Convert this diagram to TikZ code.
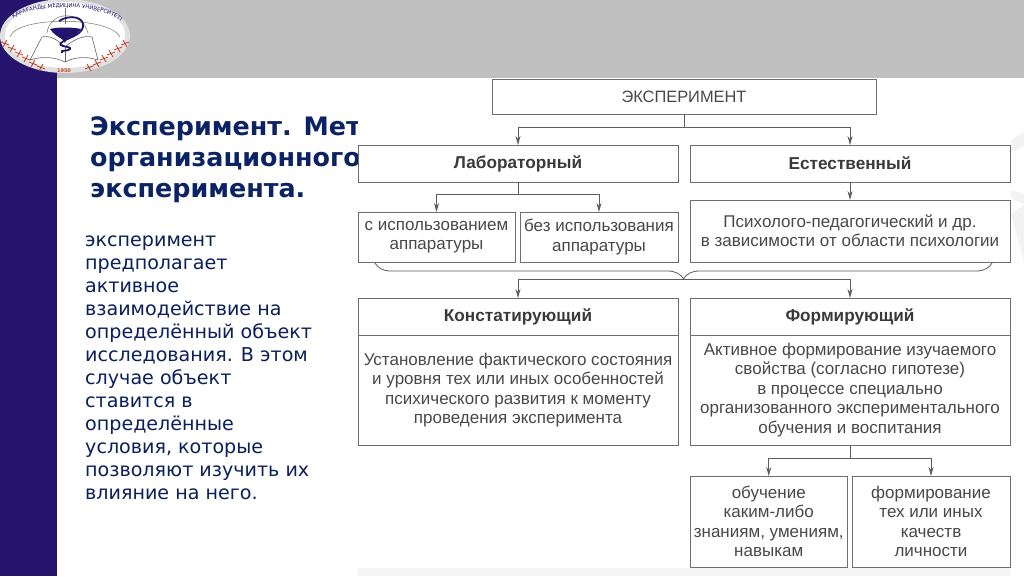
\documentclass[tikz,border=0pt]{standalone}
\usepackage{fontspec}
\setmainfont{Liberation Sans}
\newfontfamily\slidefont{DejaVu Sans}
\usepackage{xcolor}
\usetikzlibrary{arrows.meta,positioning,decorations.pathreplacing,decorations.text}
\definecolor{barpurple}{HTML}{24146E}
\definecolor{bargray}{HTML}{C0C0C0}
\definecolor{titleblue}{HTML}{0B2265}
\definecolor{inkgray}{HTML}{484848}
\definecolor{linegray}{HTML}{6E6E6E}
\definecolor{ornred}{HTML}{C8482F}

\begin{document}
\begin{tikzpicture}[
  x=1pt, y=-1pt,
  box/.style={rectangle, draw=linegray, line width=.9pt, fill=white, inner sep=0pt, outer sep=0pt,
              text=inkgray, align=center, font=\fontsize{17}{19.5}\selectfont},
  headbox/.style={box, minimum width=320pt, minimum height=37pt, text=inkgray!80!black,
              font=\fontsize{17.2}{19.5}\selectfont\bfseries},
  bodybox/.style={box, minimum width=320pt, minimum height=110pt},
  subbox/.style={box, minimum width=157pt, minimum height=50pt},
  wire/.style={draw=linegray!85!black, line width=.9pt},
  arr/.style={wire, -{Stealth[length=9pt,width=5pt]}},
  slidetext/.style={inner sep=0pt, anchor=north west, align=left, font=\slidefont\fontsize{19.1}{23}\selectfont, text=titleblue!90!black},
  titletext/.style={inner sep=0pt, anchor=north west, align=left, font=\slidefont\bfseries\fontsize{25.4}{31}\selectfont, text=titleblue},
  node distance=18pt and 12pt]

\useasboundingbox (0,0) rectangle (1024,576);

% slide
\fill[white] (0,0) rectangle (1024,576);
\fill[bargray] (57,0) rectangle (1024,78);
\fill[barpurple] (0,0) rectangle (57,576);

\node[titletext] (slidetitle) at (90,116) {Эксперимент. Метод\\организационного\\эксперимента.};
\node[slidetext] (slidebody) at (85,236) {эксперимент\\предполагает\\активное\\взаимодействие на\\определённый объект\\исследования. В этом\\случае объект\\ставится в\\определённые\\условия, которые\\позволяют изучить их\\влияние на него.};

% picture area hides the end of the title
\fill[white] (358,79) rectangle (1024,576);
\fill[black!5] (1011,140) -- (1024,132) -- (1024,146) -- (1011,152) -- cycle;
\fill[black!5] (1011,190) -- (1024,194) -- (1024,204) -- (1011,198) -- cycle;
\fill[black!5] (1011,214) -- (1024,205) -- (1024,262) -- cycle;
\fill[black!4] (358,568) rectangle (1010,576);

% logo
\fill[black!12] (65,36) ellipse [x radius=65, y radius=37];
\fill[white] (65,35) ellipse [x radius=60, y radius=33];
\path[decorate, decoration={text along path, text align=center,
  text color=barpurple, text={|\slidefont\fontsize{5.4}{6}\selectfont|ҚАРАҒАНДЫ МЕДИЦИНА УНИВЕРСИТЕТІ}}]
  (9,23) .. controls (26,2) and (104,2) .. (125,25);
\draw[black!55, line width=.5pt] (10,37) .. controls (16,16) and (110,16) .. (120,37);
\draw[black!55, line width=.5pt] (47,33) .. controls (50,10) and (82,10) .. (88,33);
\draw[black!55, line width=.5pt] (65,8) -- (65,24);
% book
\draw[black!60, line width=.6pt, fill=white] (30,60) -- (42,37) .. controls (50,35) and (58,40) .. (65,47)
  .. controls (73,40) and (83,35) .. (92,37) -- (98,60) .. controls (85,56) and (75,57) .. (65,62) .. controls (55,57) and (42,56) .. (30,60) -- cycle;
\draw[black!60, line width=.4pt] (65,47) -- (65,62);
% bowl and snake
\fill[barpurple] (50,29) .. controls (57,27) and (72,27) .. (81,29) .. controls (76,36) and (70,38) .. (66,40) -- (65,43) -- (63,40) .. controls (59,37) and (54,35) .. (50,29) -- cycle;
\draw[barpurple, line width=1.8pt] (59,21) .. controls (70,14) and (85,17) .. (83,27) .. controls (81,36) and (66,38) .. (61,43) .. controls (57,47) and (72,46) .. (70,49) .. controls (68,52) and (60,49) .. (62,53);
% ornament
\foreach \i/\j in {5/43, 12/48, 19/53, 26/58, 33/63, 41/67}{
  \draw[ornred, line width=.9pt] (\i-4,\j-1) -- (\i+4,\j+2) (\i+2,\j-3) -- (\i-2,\j+4);
  \draw[ornred, line width=.9pt] (130-\i-4,\j+2) -- (130-\i+4,\j-1) (130-\i-2,\j-3) -- (130-\i+2,\j+4);
}
\node[inner sep=0pt, text=ornred, font=\slidefont\bfseries\fontsize{5}{6}\selectfont] (logoyear) at (64,71) {1950};

% diagram
\node[box, minimum width=384pt, minimum height=35pt, font=\fontsize{16.4}{19.5}\selectfont] (root) at (684,96.5) {ЭКСПЕРИМЕНТ};
\node[headbox] (lab) at (518,163.5) {Лабораторный};
\node[headbox, right=of lab] (natural) {Естественный};
\node[subbox, below=30pt of lab.south west, anchor=north west] (withapp) {с использованием\\аппаратуры};
\node[subbox, minimum width=158pt, below=30pt of lab.south east, anchor=north east] (noapp) {без использования\\аппаратуры};
\node[box, minimum width=320pt, minimum height=62pt, below=of natural] (psych) {Психолого-педагогический и др.\\в зависимости от области психологии};
\node[headbox, below=116pt of lab] (stating) {Констатирующий};
\node[headbox, below=116pt of natural] (forming) {Формирующий};
\node[bodybox, below=0pt of stating] (statingbody) {Установление фактического состояния\\и уровня тех или иных особенностей\\психического развития к моменту\\проведения эксперимента};
\node[bodybox, below=0pt of forming] (formingbody) {Активное формирование изучаемого\\свойства (согласно гипотезе)\\в процессе специально\\организованного экспериментального\\обучения и воспитания};
\node[subbox, minimum height=91pt, minimum width=157.5pt, below=31pt of formingbody.south west, anchor=north west] (teach) {обучение\\каким-либо\\знаниям, умениям,\\навыкам};
\node[subbox, minimum height=91pt, minimum width=158pt, below=31pt of formingbody.south east, anchor=north east] (traits) {формирование\\тех или иных\\качеств\\личности};

\coordinate (rootfork) at (684,127);
\coordinate (labfork) at (518,194);
\coordinate (bracetip) at (684,279);
\coordinate (formfork) at (850,458);

\draw[wire] (root.south) -- (rootfork);
\draw[arr] (rootfork) -| (lab.north);
\draw[arr] (rootfork) -| (natural.north);
\draw[wire] (lab.south) -- (labfork);
\draw[arr] (labfork) -| (withapp.north);
\draw[arr] (labfork) -| (noapp.north);
\draw[arr] (natural.south) -- (psych.north);
\draw[wire, line width=.8pt, decorate, decoration={brace, mirror, amplitude=16pt}] (375,263) -- (992,263);
\draw[arr] (bracetip) -| (stating.north);
\draw[arr] (bracetip) -| (forming.north);
\draw[wire] (formingbody.south) -- (formfork);
\draw[arr] (formfork) -| (teach.north);
\draw[arr] (formfork) -| (traits.north);
\end{tikzpicture}
\end{document}
